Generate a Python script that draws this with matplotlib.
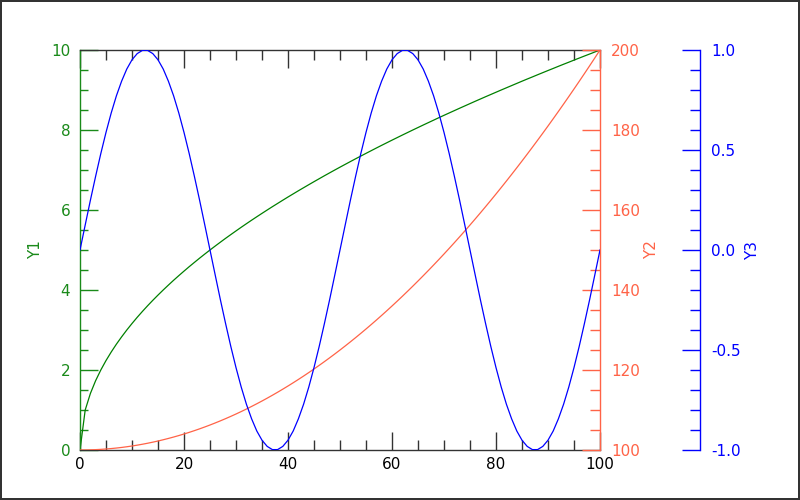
import matplotlib.pyplot as plt
from matplotlib.ticker import MultipleLocator

plt.rcParams['axes.unicode_minus'] = False
plt.rcParams['font.size'] = 11

x = list(range(0, 101))

y1 = [0, 1, 1.414, 1.732, 2, 2.236, 2.449, 2.646, 2.828, 3,
      3.162, 3.317, 3.464, 3.606, 3.742, 3.873, 4, 4.123, 4.243, 4.359,
      4.472, 4.583, 4.690, 4.796, 4.899, 5, 5.099, 5.196, 5.292, 5.385,
      5.477, 5.568, 5.657, 5.745, 5.831, 5.916, 6, 6.083, 6.164, 6.245,
      6.325, 6.403, 6.481, 6.557, 6.633, 6.708, 6.782, 6.856, 6.928, 7,
      7.071, 7.141, 7.211, 7.280, 7.348, 7.416, 7.483, 7.550, 7.616, 7.681,
      7.746, 7.810, 7.874, 7.937, 8, 8.062, 8.124, 8.185, 8.246, 8.307,
      8.367, 8.426, 8.485, 8.544, 8.602, 8.660, 8.718, 8.775, 8.832, 8.888,
      8.944, 9, 9.055, 9.110, 9.165, 9.220, 9.274, 9.327, 9.381, 9.434,
      9.487, 9.539, 9.592, 9.644, 9.695, 9.747, 9.798, 9.849, 9.899, 9.950,
      10]

y2 = [100, 100.01, 100.04, 100.09, 100.16, 100.25, 100.36, 100.49, 100.64, 100.81,
      101, 101.21, 101.44, 101.69, 101.96, 102.25, 102.56, 102.89, 103.24, 103.61,
      104, 104.41, 104.84, 105.29, 105.76, 106.25, 106.76, 107.29, 107.84, 108.41,
      109, 109.61, 110.24, 110.89, 111.56, 112.25, 112.96, 113.69, 114.44, 115.21,
      116, 116.81, 117.64, 118.49, 119.36, 120.25, 121.16, 122.09, 123.04, 124.01,
      125, 126.01, 127.04, 128.09, 129.16, 130.25, 131.36, 132.49, 133.64, 134.81,
      136, 137.21, 138.44, 139.69, 140.96, 142.25, 143.56, 144.89, 146.24, 147.61,
      149, 150.41, 151.84, 153.29, 154.76, 156.25, 157.76, 159.29, 160.84, 162.41,
      164, 165.61, 167.24, 168.89, 170.56, 172.25, 173.96, 175.69, 177.44, 179.21,
      181, 182.81, 184.64, 186.49, 188.36, 190.25, 192.16, 194.09, 196.04, 198.01,
      200]

y3 = [0, 0.125, 0.249, 0.368, 0.482, 0.588, 0.685, 0.771, 0.844, 0.905,
      0.951, 0.982, 0.998, 0.998, 0.982, 0.951, 0.905, 0.844, 0.771, 0.685,
      0.588, 0.482, 0.368, 0.249, 0.125, 0, -0.125, -0.249, -0.368, -0.482,
      -0.588, -0.685, -0.771, -0.844, -0.905, -0.951, -0.982, -0.998, -0.998, -0.982,
      -0.951, -0.905, -0.844, -0.771, -0.685, -0.588, -0.482, -0.368, -0.249, -0.125,
      0, 0.125, 0.249, 0.368, 0.482, 0.588, 0.685, 0.771, 0.844, 0.905,
      0.951, 0.982, 0.998, 0.998, 0.982, 0.951, 0.905, 0.844, 0.771, 0.685,
      0.588, 0.482, 0.368, 0.249, 0.125, 0, -0.125, -0.249, -0.368, -0.482,
      -0.588, -0.685, -0.771, -0.844, -0.905, -0.951, -0.982, -0.998, -0.998, -0.982,
      -0.951, -0.905, -0.844, -0.771, -0.685, -0.588, -0.482, -0.368, -0.249, -0.125,
      0]

green = '#1a8a1a'
red = '#ff6347'
blue = '#0000ff'

fig = plt.figure(figsize=(8, 5), dpi=100, edgecolor='#333333', linewidth=1.5)
ax = fig.add_axes([0.1, 0.1, 0.65, 0.8])
ax2 = ax.twinx()
ax3 = ax.twinx()

ax.plot(x, y1, color='green', lw=0.9)
ax2.plot(x, y2, color=red, lw=0.9)
ax3.plot(x, y3, color=blue, lw=0.9)

ax.set_xlim(0, 100)
ax.set_ylim(0, 10)
ax2.set_ylim(100, 200)
ax3.set_ylim(-1, 1)

ax.xaxis.set_major_locator(MultipleLocator(20))
ax.xaxis.set_minor_locator(MultipleLocator(5))
ax.yaxis.set_major_locator(MultipleLocator(2))
ax.yaxis.set_minor_locator(MultipleLocator(0.5))
ax2.yaxis.set_major_locator(MultipleLocator(20))
ax2.yaxis.set_minor_locator(MultipleLocator(5))
ax3.yaxis.set_major_locator(MultipleLocator(0.5))
ax3.yaxis.set_minor_locator(MultipleLocator(0.1))
ax3.yaxis.set_major_formatter(plt.FormatStrFormatter('%.1f'))

for s in ['top', 'bottom']:
    ax.spines[s].set_color('#333333')
ax.spines['left'].set_color(green)
ax.spines['right'].set_visible(False)
for s in ['left', 'top', 'bottom']:
    ax2.spines[s].set_visible(False)
    ax3.spines[s].set_visible(False)
ax2.spines['right'].set_color(red)
ax3.spines['right'].set_color(blue)
ax3.spines['right'].set_position(('axes', 620 / 520))
for a in [ax, ax2, ax3]:
    for s in a.spines.values():
        s.set_linewidth(1)

ax.tick_params(axis='x', which='both', direction='in', top=True, colors='#333333',
               labelcolor='black', labelsize=11, pad=5)
ax.tick_params(axis='x', which='major', length=13, width=1)
ax.tick_params(axis='x', which='minor', length=7, width=1)
ax.tick_params(axis='y', which='both', direction='in', colors=green, labelsize=11, pad=7)
ax.tick_params(axis='y', which='major', length=13, width=1)
ax.tick_params(axis='y', which='minor', length=6, width=1)
for a, c in [(ax2, red), (ax3, blue)]:
    a.tick_params(axis='y', which='both', direction='in', colors=c, labelsize=11, pad=8)
    a.tick_params(axis='y', which='major', length=13, width=1)
    a.tick_params(axis='y', which='minor', length=7, width=1)

ax.set_ylabel('Y1', color=green, fontsize=11, labelpad=6)
ax2.set_ylabel('Y2', color=red, fontsize=11, labelpad=3)
ax3.set_ylabel('Y3', color=blue, fontsize=11, labelpad=3)

fig.savefig('out.png', dpi=100, edgecolor=fig.get_edgecolor())
